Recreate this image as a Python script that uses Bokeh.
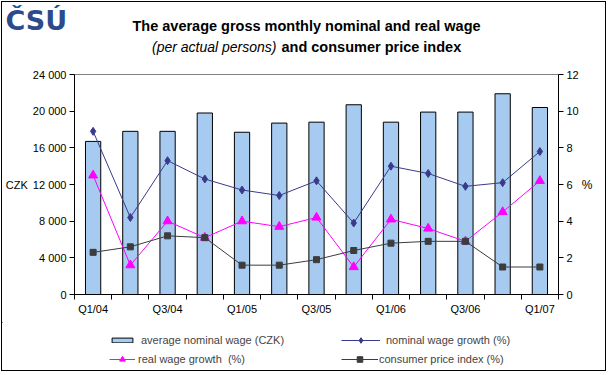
from bokeh.plotting import figure
from bokeh.models import Range1d, LinearAxis, FixedTicker, Label, Legend, LegendItem
from bokeh.layouts import column
from bokeh.embed import file_html
from bokeh.resources import INLINE

# ---------------- data ----------------
quarters = ["Q1/04", "Q2/04", "Q3/04", "Q4/04", "Q1/05", "Q2/05", "Q3/05", "Q4/05",
            "Q1/06", "Q2/06", "Q3/06", "Q4/06", "Q1/07"]
shown_labels = ["Q1/04", "Q3/04", "Q1/05", "Q3/05", "Q1/06", "Q3/06", "Q1/07"]
avg_wage = [16700, 17800, 17800, 19800, 17700, 18700, 18800, 20700,
            18800, 19900, 19900, 21900, 20400]
nominal_growth = [8.9, 4.2, 7.3, 6.3, 5.7, 5.4, 6.2, 3.9, 7.0, 6.6, 5.9, 6.1, 7.8]
real_growth = [6.5, 1.6, 4.0, 3.1, 4.0, 3.7, 4.2, 1.5, 4.1, 3.6, 2.9, 4.5, 6.2]
cpi = [2.3, 2.6, 3.2, 3.1, 1.6, 1.6, 1.9, 2.4, 2.8, 2.9, 2.9, 1.5, 1.5]
czk_ticks = [0, 4000, 8000, 12000, 16000, 20000, 24000]
pct_ticks = [0, 2, 4, 6, 8, 10, 12]

title_line1 = "The average gross monthly nominal and real wage"
title_line2_italic = "(per actual persons)"
title_line2_bold = "and consumer price index"

n = len(quarters)
centers = [i + 0.5 for i in range(n)]

# ---------------- layout (page pixels) ----------------
OFF = 2                 # 1px margin + 1px border round the chart area
W = 603                 # content width
PAGE_BOTTOM = 369       # last content row
TOP_Y = 62              # title strip ends here
FL, FR, FT, FB = 72, 558, 74, 294  # plot frame edges
CHART_BOTTOM = 322

FONT = "Liberation Sans"
BAR_C = "#A6CAF0"
NOM_C = "#3A3A8A"
REAL_C = "#FF00FF"
CPI_C = "#3C3C3C"


def strip(y0, y1):
    """A figure whose frame is the whole canvas, in page pixel coordinates."""
    f = figure(width=W, height=y1 - y0, output_backend="svg", toolbar_location=None,
               x_range=Range1d(OFF, OFF + W), y_range=Range1d(y1, y0),
               min_border=0, min_border_left=0, min_border_right=0,
               min_border_top=0, min_border_bottom=0,
               x_axis_location=None, y_axis_location=None, frame_align=False)
    f.xgrid.visible = False
    f.ygrid.visible = False
    f.outline_line_color = None
    f.background_fill_color = "white"
    f.border_fill_color = "white"
    return f


# ---------------- title strip ----------------
top = strip(OFF, TOP_Y)


def tlabel(fig, text, x, y, size, align="left", style="normal", font=FONT,
           color="black", baseline="middle"):
    fig.add_layout(Label(x=x, y=y, text=text, text_font=font, text_font_size=size,
                         text_font_style=style, text_color=color, text_align=align,
                         text_baseline=baseline))


tlabel(top, title_line1, 306, 25, "14.5px", "center", "bold")
tlabel(top, title_line2_italic, 276, 46, "14px", "right", "italic")
tlabel(top, title_line2_bold, 281, 46, "14.5px", "left", "bold")
tlabel(top, "ČSÚ", 5, 4, "27px", "left", "bold", "DejaVu Sans", "#2B4B8C", "top")

# ---------------- main chart ----------------
p = figure(width=W, height=CHART_BOTTOM - TOP_Y, output_backend="svg",
           toolbar_location=None,
           x_range=Range1d(0, n), y_range=Range1d(0, 24000),
           min_border_left=FL - OFF, min_border_right=OFF + W - FR,
           min_border_top=FT - TOP_Y, min_border_bottom=CHART_BOTTOM - FB,
           x_axis_location=None, y_axis_location=None, frame_align=False)
p.extra_y_ranges = {"pct": Range1d(0, 12)}
p.xgrid.visible = False
p.ygrid.visible = False
p.outline_line_color = "#808080"
p.background_fill_color = "white"
p.border_fill_color = "white"

lab_over = {c: (quarters[i] if quarters[i] in shown_labels else "")
            for i, c in enumerate(centers)}
xaxis = LinearAxis(ticker=FixedTicker(ticks=centers, minor_ticks=list(range(n + 1))),
                   major_label_overrides=lab_over)
xaxis.major_tick_line_color = None
xaxis.major_tick_out = 0
xaxis.major_tick_in = 0
xaxis.minor_tick_out = 5
xaxis.minor_tick_in = 0
xaxis.minor_tick_line_color = "black"
xaxis.major_label_standoff = 3
p.add_layout(xaxis, "below")

yaxis = LinearAxis(ticker=FixedTicker(ticks=czk_ticks),
                   major_label_overrides={v: f"{v:,}".replace(",", " ") for v in czk_ticks},
                   axis_label="CZK")
yaxis.major_tick_out = 5
yaxis.major_tick_in = 0
yaxis.minor_tick_line_color = None
yaxis.major_label_standoff = 3
yaxis.axis_label_orientation = "horizontal"
yaxis.axis_label_standoff = 2
yaxis.axis_label_text_font_size = "11px"
p.add_layout(yaxis, "left")

raxis = LinearAxis(y_range_name="pct", ticker=FixedTicker(ticks=pct_ticks), axis_label="%")
raxis.major_tick_out = 5
raxis.major_tick_in = 0
raxis.minor_tick_line_color = None
raxis.major_label_standoff = 3
raxis.axis_label_orientation = "horizontal"
raxis.axis_label_standoff = 0
raxis.axis_label_text_font_size = "12px"
p.add_layout(raxis, "right")

for ax in (xaxis, yaxis, raxis):
    ax.axis_line_color = "black"
    ax.major_label_text_font = FONT
    ax.major_label_text_font_size = "11px"
    ax.major_label_text_color = "black"
    ax.axis_label_text_font = FONT
    ax.axis_label_text_font_style = "normal"
    ax.axis_label_text_color = "black"

p.vbar(x=centers, top=avg_wage, width=0.41, fill_color=BAR_C,
       line_color="black", line_width=1)
p.line(centers, nominal_growth, y_range_name="pct", line_color=NOM_C, line_width=1)
p.scatter(centers, nominal_growth, y_range_name="pct", marker="diamond", size=8,
          fill_color=NOM_C, line_color=NOM_C)
p.line(centers, real_growth, y_range_name="pct", line_color=REAL_C, line_width=1)
p.scatter(centers, real_growth, y_range_name="pct", marker="triangle", size=9,
          fill_color=REAL_C, line_color=REAL_C)
p.line(centers, cpi, y_range_name="pct", line_color=CPI_C, line_width=1)
p.scatter(centers, cpi, y_range_name="pct", marker="square", size=6,
          fill_color=CPI_C, line_color=CPI_C)

# ---------------- legend strip ----------------
bot = strip(CHART_BOTTOM, PAGE_BOTTOM + 1)
# legend proxies: points outside the visible range, only used for the legend keys
hx, hy = [-1000, -999], [-1000, -999]
lg_bar = bot.vbar(x=hx, top=hy, width=1, fill_color=BAR_C, line_color="black")
lg_nl = bot.line(x=hx, y=hy, line_color=NOM_C, line_width=1)
lg_ns = bot.scatter(x=hx, y=hy, marker="diamond", size=8, fill_color=NOM_C, line_color=NOM_C)
lg_rl = bot.line(x=hx, y=hy, line_color=REAL_C, line_width=1)
lg_rs = bot.scatter(x=hx, y=hy, marker="triangle", size=8, fill_color=REAL_C, line_color=REAL_C)
lg_cl = bot.line(x=hx, y=hy, line_color=CPI_C, line_width=1)
lg_cs = bot.scatter(x=hx, y=hy, marker="square", size=6, fill_color=CPI_C, line_color=CPI_C)


def add_legend(label, renderers, left_px, center_y_px, gw, gh, standoff):
    lh = 14
    leg = Legend(items=[LegendItem(label=label, renderers=renderers)],
                 location=(left_px - OFF, (PAGE_BOTTOM + 1) - (center_y_px + lh / 2)),
                 padding=0, margin=0, spacing=0, border_line_color=None,
                 background_fill_alpha=0, glyph_width=gw, glyph_height=gh,
                 label_height=lh, label_standoff=standoff,
                 label_text_font=FONT, label_text_font_size="11px")
    bot.add_layout(leg)


add_legend("average nominal wage (CZK)", [lg_bar], 109, 340, 26, 6, 6)
add_legend("real wage growth  (%)", [lg_rl, lg_rs], 109, 359, 26, 14, 3)
add_legend("nominal wage growth (%)", [lg_nl, lg_ns], 341, 340, 39, 14, 6)
add_legend("consumer price index (%)", [lg_cl, lg_cs], 341, 359, 37, 14, 1)

layout = column(top, p, bot, spacing=0,
                styles={"border": "1px solid black", "margin": "1px 0 0 1px"})

open("out.html", "w").write(file_html(layout, INLINE))
